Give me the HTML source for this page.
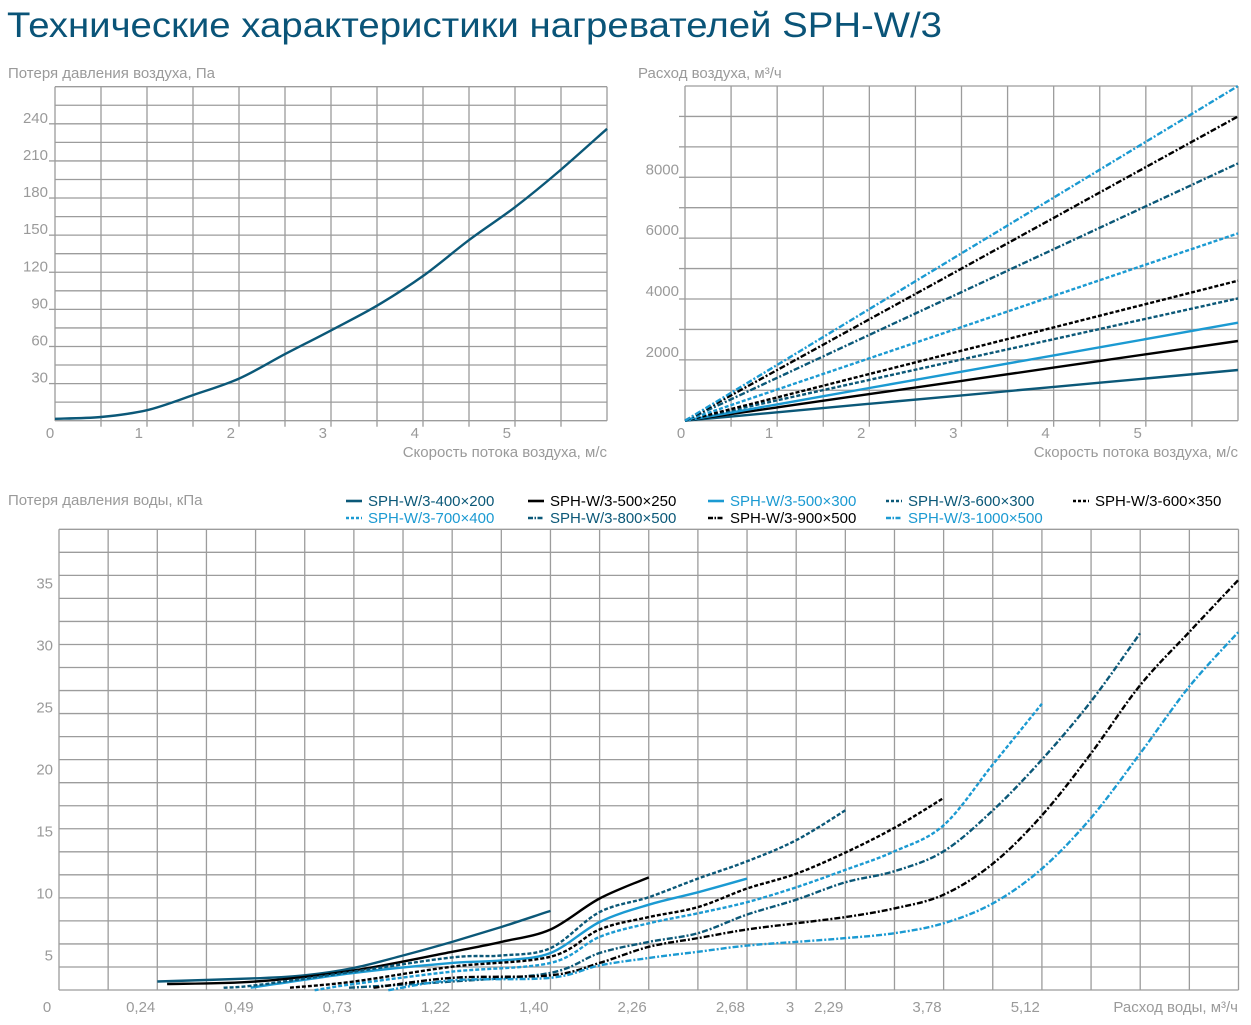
<!DOCTYPE html>
<html><head><meta charset="utf-8">
<style>
html,body{margin:0;padding:0;background:#fff;}
svg{display:block;font-family:"Liberation Sans",sans-serif;}
</style></head>
<body>
<svg id="root" width="1251" height="1025" viewBox="0 0 1251 1025" xmlns="http://www.w3.org/2000/svg">
<text x="7" y="37" font-size="35" fill="#0a5478" textLength="935" lengthAdjust="spacingAndGlyphs">Технические характеристики нагревателей SPH-W/3</text>
<text x="8" y="78" font-size="15" fill="#9a9a9a">Потеря давления воздуха, Па</text>
<text x="638" y="78" font-size="15" fill="#9a9a9a">Расход воздуха, м³/ч</text>
<text x="607" y="457" font-size="15" fill="#9a9a9a" text-anchor="end">Скорость потока воздуха, м/с</text>
<text x="1238" y="457" font-size="15" fill="#9a9a9a" text-anchor="end">Скорость потока воздуха, м/с</text>
<text x="8" y="505" font-size="15" fill="#9a9a9a">Потеря давления воды, кПа</text>
<text x="1238" y="1012" font-size="15" fill="#9a9a9a" text-anchor="end">Расход воды, м³/ч</text>
<g id="c1"></g>
<g id="c2"></g>
<g id="c3"></g>
<g id="legend"></g>
</svg>
<script>
// ---------- Chart 1: air pressure loss ----------
const c1Velocity = [0, 0.5, 1, 1.5, 2, 2.5, 3, 3.5, 4, 4.5, 5, 5.5, 6];
const c1Pressure = [1.5, 3, 8.5, 20.7, 34, 53.8, 73, 93, 117, 146, 172.6, 203, 236];
const c1YTicks = [30, 60, 90, 120, 150, 180, 210, 240];
const c1XTicks = [0, 1, 2, 3, 4, 5];

// ---------- Chart 2: airflow ----------
const c2Velocity = [0, 1, 2, 3, 4, 5, 6];
const c2Names = ["400x200","500x250","500x300","600x300","600x350","700x400","800x500","900x500","1000x500"];
const c2At6 = [1665, 2618, 3220, 4020, 4600, 6155, 8456, 10000, 11000];
const c2YTicks = [2000, 4000, 6000, 8000];
const c2XTicks = [0, 1, 2, 3, 4, 5];

// ---------- Chart 3: water pressure loss ----------
const c3XLabels = ["0,24","0,49","0,73","1,22","1,40","2,26","2,68","3","2,29","3,78","5,12"];
const c3XLabelPos = [2, 4, 6, 8, 10, 12, 14, 15, 16, 18, 20];
const c3YTicks = [5, 10, 15, 20, 25, 30, 35];
const s400x200_x = [2, 4, 5, 6, 7, 8, 9, 10];
const s400x200_y = [2.9, 3.16, 3.4, 4.0, 5.0, 6.1, 7.3, 8.6];
const s500x250_x = [2.2, 4, 6, 8, 9, 10, 11, 12];
const s500x250_y = [2.7, 2.9, 3.8, 5.3, 6.1, 7.1, 9.6, 11.3];
const s500x300_x = [3.9, 6, 8, 9, 10, 11, 12, 13, 14];
const s500x300_y = [2.4, 3.6, 4.4, 4.6, 5.2, 7.7, 9.1, 10.1, 11.2];
const s600x300_x = [3.35, 4, 6, 8, 9, 10, 11, 12, 13, 14, 15, 16];
const s600x300_y = [2.4, 2.6, 3.7, 4.85, 5.0, 5.6, 8.5, 9.7, 11.2, 12.6, 14.3, 16.7];
const s600x350_x = [4.7, 6, 8, 10, 11, 12, 13, 14, 15, 16, 17, 18];
const s600x350_y = [2.4, 2.9, 4.1, 4.9, 7.1, 8.1, 8.9, 10.4, 11.6, 13.3, 15.3, 17.7];
const s700x400_x = [5.2, 6, 8, 10, 11, 12, 13, 14, 15, 16, 17, 18, 19, 20];
const s700x400_y = [2.2, 2.7, 3.7, 4.4, 6.5, 7.6, 8.4, 9.3, 10.5, 11.9, 13.4, 15.5, 20.4, 25.3];
const s800x500_x = [5.9, 8, 10, 11, 12, 13, 14, 15, 16, 17, 18, 19, 20, 21, 22];
const s800x500_y = [2.4, 2.9, 3.6, 5.2, 6.1, 6.8, 8.3, 9.5, 10.9, 11.8, 13.4, 16.7, 20.8, 25.5, 31.0];
const s900x500_x = [6.4, 8, 10, 11, 12, 13, 14, 15, 16, 17, 18, 19, 20, 21, 22, 23, 24];
const s900x500_y = [2.4, 3.2, 3.4, 4.4, 5.7, 6.4, 7.1, 7.6, 8.1, 8.8, 9.9, 12.4, 16.3, 21.3, 26.8, 31.1, 35.3];
const s1000x500_x = [6.7, 8, 10, 11, 12, 13, 14, 15, 16, 17, 18, 19, 20, 21, 22, 23, 24];
const s1000x500_y = [2.2, 3.0, 3.2, 4.2, 4.8, 5.3, 5.8, 6.1, 6.4, 6.8, 7.6, 9.2, 12.0, 16.1, 21.3, 26.7, 31.1];

const NS = "http://www.w3.org/2000/svg";
const DARK = "#0b5878", BLACK = "#000", LIGHT = "#1b9ad2", GRID = "#9c9c9c", TXT = "#9a9a9a";
const DASH = "4 2", DASHDOT = "6 2 2 2";
const styles = {
  "400x200": [DARK, null], "500x250": [BLACK, null], "500x300": [LIGHT, null],
  "600x300": [DARK, DASH], "600x350": [BLACK, DASH], "700x400": [LIGHT, DASH],
  "800x500": [DARK, DASHDOT], "900x500": [BLACK, DASHDOT], "1000x500": [LIGHT, DASHDOT]
};
function mk(tag, attrs, parent) {
  const e = document.createElementNS(NS, tag);
  for (const k in attrs) e.setAttribute(k, attrs[k]);
  parent.appendChild(e);
  return e;
}
function smooth(pts) {
  let d = "M" + pts[0][0].toFixed(1) + "," + pts[0][1].toFixed(1);
  for (let i = 0; i < pts.length - 1; i++) {
    const p0 = pts[i - 1] || pts[i], p1 = pts[i], p2 = pts[i + 1], p3 = pts[i + 2] || p2;
    const c1x = p1[0] + (p2[0] - p0[0]) / 6, c1y = p1[1] + (p2[1] - p0[1]) / 6;
    const c2x = p2[0] - (p3[0] - p1[0]) / 6, c2y = p2[1] - (p3[1] - p1[1]) / 6;
    d += " C" + c1x.toFixed(1) + "," + c1y.toFixed(1) + " " + c2x.toFixed(1) + "," + c2y.toFixed(1) + " " + p2[0].toFixed(1) + "," + p2[1].toFixed(1);
  }
  return d;
}
function grid(g, L, R, T, B, nx, ny, tickExt) {
  for (let i = 0; i <= nx; i++) {
    const x = L + (R - L) * i / nx;
    const ln = mk("line", {x1: x, x2: x, y1: T, y2: B + (i > 0 && i < nx ? tickExt : 0), stroke: GRID, "stroke-width": 1.3}, g);
    
    
  }
  for (let j = 0; j <= ny; j++) {
    const y = T + (B - T) * j / ny;
    const ln = mk("line", {x1: L, x2: R, y1: y, y2: y, stroke: GRID, "stroke-width": 1.3}, g);
    
    
  }
}
function label(g, x, y, s, anchor, name) {
  const t = mk("text", {x: x, y: y, "font-size": 15, fill: TXT, "text-anchor": anchor}, g);
  t.textContent = s;
  
  
  return t;
}

// Chart 1
(function () {
  const g = document.getElementById("c1");
  const L = 55, R = 607, T = 86.7, B = 420.7;
  const xs = v => L + (R - L) * v / 6, ys = v => B - (B - T) * v / 270;
  grid(g, L, R, T, B, 12, 18, 6);
  c1YTicks.forEach(v => {
    const y = ys(v);
    mk("line", {x1: 49, x2: L, y1: y, y2: y, stroke: GRID, "stroke-width": 1.3}, g);
    label(g, 48, y - 1, String(v), "end", "y-tick-label");
  });
  c1XTicks.forEach(v => label(g, v === 0 ? 50 : xs(v) - 4, 438, String(v), v === 0 ? "middle" : "end", "x-tick-label"));
  const p = mk("path", {d: smooth(c1Velocity.map((v, i) => [xs(v), ys(c1Pressure[i])])), fill: "none", stroke: DARK, "stroke-width": 2.4}, g);
  
  
})();

// Chart 2
(function () {
  const g = document.getElementById("c2");
  const L = 685, R = 1238, T = 86, B = 420.7;
  const xs = v => L + (R - L) * v / 6, ys = v => B - (B - T) * v / 11000;
  grid(g, L, R, T, B, 12, 11, 6);
  for (let v = 1000; v <= 10000; v += 1000) mk("line", {x1: 679, x2: L, y1: ys(v), y2: ys(v), stroke: GRID, "stroke-width": 1.3}, g);
  c2YTicks.forEach(v => label(g, 679, ys(v) - 3, String(v), "end", "y-tick-label"));
  c2XTicks.forEach(v => label(g, v === 0 ? 681 : xs(v) - 4, 438, String(v), v === 0 ? "middle" : "end", "x-tick-label"));
  c2Names.forEach((n, k) => {
    const pts = c2Velocity.map(v => [xs(v), ys(c2At6[k] * v / 6)]);
    const st = styles[n];
    const a = {d: smooth(pts), fill: "none", stroke: st[0], "stroke-width": 2.4};
    if (st[1]) a["stroke-dasharray"] = st[1];
    const p = mk("path", a, g);
    
    
  });
})();

// Chart 3
(function () {
  const g = document.getElementById("c3");
  const L = 59, R = 1238.5, T = 529.3, B = 990;
  const colW = (R - L) / 24;
  const xs = u => L + colW * u, ys = v => 1017.5 - 12.4 * v;
  grid(g, L, R, T, B, 24, 20, 0);
  c3YTicks.forEach(v => label(g, 53, ys(v) + 5, String(v), "end", "y-tick-label"));
  label(g, 47, 1012, "0", "middle", "x-tick-label");
  c3XLabels.forEach((s, i) => label(g, xs(c3XLabelPos[i]) - 2, 1012, s, "end", "x-tick-label"));
  const series = [
    ["400x200", s400x200_x, s400x200_y], ["500x250", s500x250_x, s500x250_y], ["500x300", s500x300_x, s500x300_y],
    ["600x300", s600x300_x, s600x300_y], ["600x350", s600x350_x, s600x350_y], ["700x400", s700x400_x, s700x400_y],
    ["800x500", s800x500_x, s800x500_y], ["900x500", s900x500_x, s900x500_y], ["1000x500", s1000x500_x, s1000x500_y]
  ];
  series.forEach(s => {
    const st = styles[s[0]];
    const a = {d: smooth(s[1].map((u, i) => [xs(u), ys(s[2][i])])), fill: "none", stroke: st[0], "stroke-width": 2.4};
    if (st[1]) a["stroke-dasharray"] = st[1];
    const p = mk("path", a, g);
    
    
  });
})();

// Legend
(function () {
  const g = document.getElementById("legend");
  const pos = [[346, 506], [528, 506], [708, 506], [886, 506], [1073, 506], [346, 523], [528, 523], [708, 523], [886, 523]];
  c2Names.forEach((n, k) => {
    const st = styles[n];
    const x = pos[k][0], y = pos[k][1];
    const a = {x1: x, x2: x + 16, y1: y - 5, y2: y - 5, stroke: st[0], "stroke-width": 2.6};
    if (st[1]) a["stroke-dasharray"] = st[1] === DASH ? "3 2" : "5 1.5 1.5 1.5";
    const ln = mk("line", a, g);
    
    
    const t = mk("text", {x: x + 22, y: y, "font-size": 15, fill: st[0]}, g);
    t.textContent = "SPH-W/3-" + n.replace("x", "×");
    
    
  });
})();
</script>
</body></html>
